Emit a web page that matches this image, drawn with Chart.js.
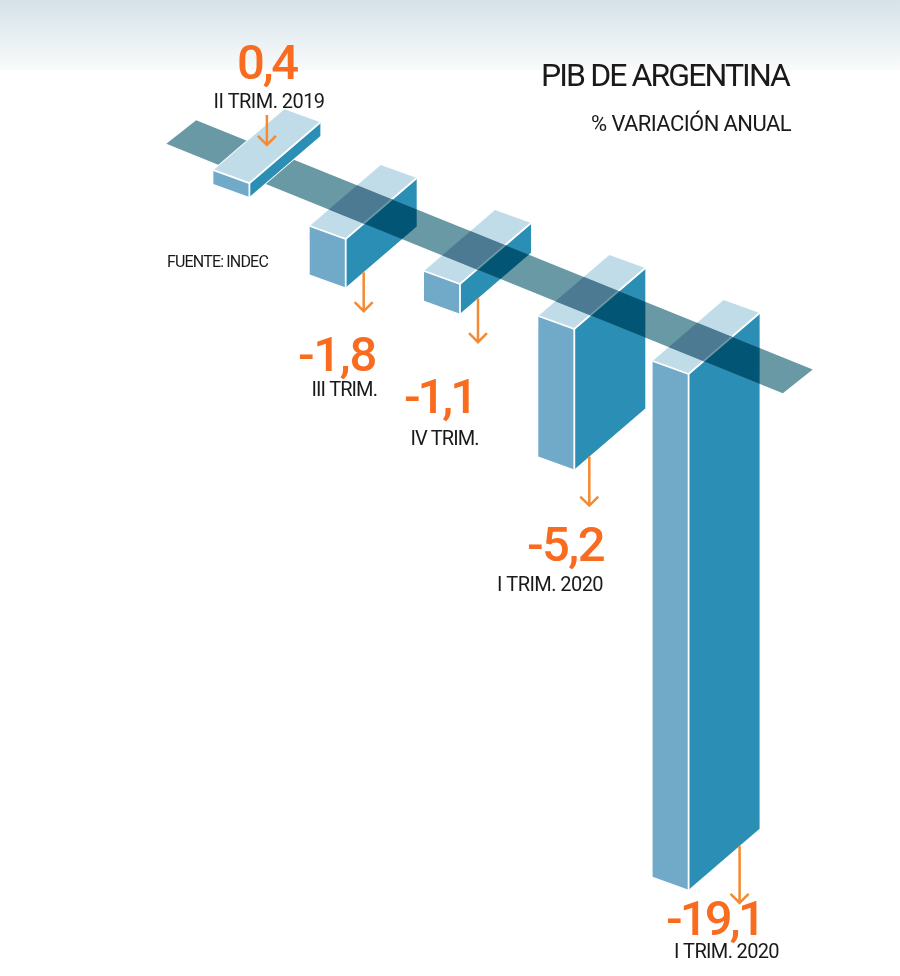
<!DOCTYPE html>
<html lang="es">
<head>
<meta charset="utf-8">
<title>PIB de Argentina</title>
<script src="https://cdn.jsdelivr.net/npm/chart.js@4/dist/chart.umd.min.js"></script>
<style>
  html, body { margin: 0; padding: 0; background: #fff; }
  canvas { display: block; }
</style>
</head>
<body>
<canvas id="pibChart" width="900" height="976"></canvas>
<script>
const categories = ["II TRIM. 2019", "III TRIM.", "IV TRIM.", "I TRIM. 2020", "I TRIM. 2020"];
const pibVariation = [0.4, -1.8, -1.1, -5.2, -19.1];

const chartTitle = "PIB DE ARGENTINA";
const chartSubtitle = "% VARIACIÓN ANUAL";
const sourceNote = "FUENTE: INDEC";

// where the annotations of each bar sit: [left, right, baseline]
const valueSpots = [[237, 297, 78.5], [298, 376, 371], [404, 475, 413], [527, 604, 561], [666, 763, 935]];
const labelSpots = [[213.5, 324.5, 107.5], [311.5, 377, 395.5], [410.5, 478.5, 444.5], [497, 603, 590.5], [674, 779, 958]];
const barNudge = [18, 0, 0, 0, 0];   // first bar is not on the regular step
const arrowDx = [17.5, 18, 18, 15, 51];
const arrowGap = [-67, 0, 0, 0, 0];
const arrowLength = [30, 39, 44, 49, 57];

// isometric look
const stepY = 45;       // each quarter goes down this much
const sideDrop = 13;    // front face slope
const depthX = 71;
const depthY = 61;
const plateDrop = 3;    // bar above zero still goes a bit under the plane
const bandCorners = [[-0.849, 0.197], [-0.835, 0.595], [4.605, 0.521], [4.591, 0.122]];

const faceColors = { left: "#71aac9", right: "#2b8fb5", top: "#c1dce9", edge: "#fff" };
const bandFaceColors = { left: "#4c7a92", right: "#035575", top: "#4c7a92", edge: "#6899a4" };

const font = 'Roboto, sans-serif';

function trace(ctx, pts) {
  ctx.beginPath();
  pts.forEach((p, i) => i ? ctx.lineTo(p[0], p[1]) : ctx.moveTo(p[0], p[1]));
}

function poly(ctx, pts, fill) {
  trace(ctx, pts);
  ctx.closePath();
  ctx.fillStyle = fill;
  ctx.fill();
}

function edge(ctx, pts, color) {
  trace(ctx, pts);
  ctx.strokeStyle = color;
  ctx.lineWidth = 1.8;
  ctx.stroke();
}

function barBox(el, i) {
  const positive = pibVariation[i] > 0;
  const fx = el.x + el.width / 2 + barNudge[i];
  return {
    fx: fx,
    lx: fx - el.width,
    top: Math.min(el.y, el.base) + i * stepY,
    bottom: Math.max(el.y, el.base) + i * stepY + (positive ? plateDrop : 0)
  };
}

function drawBar(ctx, el, i, colors) {
  const b = barBox(el, i);
  const frontTop = [b.fx, b.top];
  const frontBottom = [b.fx, b.bottom];
  const leftTop = [b.lx, b.top - sideDrop];
  const leftBottom = [b.lx, b.bottom - sideDrop];
  const rightTop = [b.fx + depthX, b.top - depthY];
  const rightBottom = [b.fx + depthX, b.bottom - depthY];
  const backTop = [b.lx + depthX, b.top - sideDrop - depthY];

  // the bar above zero needs a white rim where it crosses the band
  if (pibVariation[i] > 0) {
    edge(ctx, [leftTop, backTop, rightTop, rightBottom, frontBottom, leftBottom, leftTop], colors.edge);
  }
  poly(ctx, [leftTop, frontTop, frontBottom, leftBottom], colors.left);
  poly(ctx, [frontTop, rightTop, rightBottom, frontBottom], colors.right);
  poly(ctx, [leftTop, backTop, rightTop, frontTop], colors.top);
  edge(ctx, [leftTop, frontTop, rightTop], colors.edge);
  edge(ctx, [frontTop, frontBottom], colors.edge);
}

function drawBand(ctx, bars) {
  const x0 = barBox(bars[0], 0).fx;
  const y0 = bars[0].base;
  const stepX = bars[1].x - bars[0].x;
  const pts = bandCorners.map(c => [x0 + c[0] * stepX + c[1] * depthX, y0 + c[0] * stepY - c[1] * depthY]);
  poly(ctx, pts, "#6899a4");
  // bars seen through the band
  ctx.save();
  trace(ctx, pts);
  ctx.closePath();
  ctx.clip();
  bars.forEach((el, i) => { if (pibVariation[i] <= 0) drawBar(ctx, el, i, bandFaceColors); });
  ctx.restore();
}

function drawArrow(ctx, el, i) {
  const b = barBox(el, i);
  const x = b.fx + arrowDx[i];
  const y1 = b.bottom - arrowDx[i] * depthY / depthX + arrowGap[i];
  const y2 = y1 + arrowLength[i];
  ctx.beginPath();
  ctx.moveTo(x, y1);
  ctx.lineTo(x, y2);
  ctx.moveTo(x - 9, y2 - 9);
  ctx.lineTo(x, y2);
  ctx.lineTo(x + 9, y2 - 9);
  ctx.strokeStyle = "#f68a30";
  ctx.lineWidth = 2.5;
  ctx.stroke();
}

// stretch or squeeze a text so it fills the same width as in the print
function fitText(ctx, text, left, right, baseline, style, color) {
  ctx.font = style;
  ctx.fillStyle = color;
  ctx.textAlign = "left";
  ctx.textBaseline = "alphabetic";
  ctx.letterSpacing = "0px";
  const w = ctx.measureText(text).width;
  ctx.letterSpacing = ((right - left - w) / text.length).toFixed(2) + "px";
  ctx.fillText(text, left, baseline);
  ctx.letterSpacing = "0px";
}

const isoBars = {
  id: "isoBars",
  beforeDraw(chart) {
    const ctx = chart.ctx;
    const g = ctx.createLinearGradient(0, 0, 0, 70);
    g.addColorStop(0, "#d5e2e8");
    g.addColorStop(1, "#f9fbfb");
    ctx.fillStyle = "#fff";
    ctx.fillRect(0, 0, chart.width, chart.height);
    ctx.fillStyle = g;
    ctx.fillRect(0, 0, chart.width, 70);
  },
  afterDatasetsDraw(chart) {
    const ctx = chart.ctx;
    const bars = chart.getDatasetMeta(0).data;
    bars.forEach((el, i) => { if (pibVariation[i] <= 0) drawBar(ctx, el, i, faceColors); });
    drawBand(ctx, bars);
    bars.forEach((el, i) => { if (pibVariation[i] > 0) drawBar(ctx, el, i, faceColors); });
    bars.forEach((el, i) => drawArrow(ctx, el, i));

    pibVariation.forEach((v, i) => {
      const vs = valueSpots[i];
      const ls = labelSpots[i];
      fitText(ctx, String(v).replace(".", ","), vs[0], vs[1], vs[2], `500 49px ${font}`, "#f96b1e");
      fitText(ctx, categories[i], ls[0], ls[1], ls[2], `400 20px ${font}`, "#1a1a1a");
    });
    fitText(ctx, chartTitle, 541, 789, 86, `400 32px ${font}`, "#1a1a1a");
    fitText(ctx, chartSubtitle, 591, 791, 131, `400 22px ${font}`, "#1a1a1a");
    fitText(ctx, sourceNote, 167, 268, 266.7, `400 16px ${font}`, "#1a1a1a");
  }
};

new Chart(document.getElementById("pibChart").getContext("2d"), {
  type: "bar",
  data: {
    labels: categories,
    datasets: [{
      label: "% variación anual",
      data: pibVariation,
      backgroundColor: "transparent",
      barThickness: 36
    }]
  },
  options: {
    responsive: false,
    animation: false,
    layout: { padding: { left: 156.25, right: 172.25, top: 0, bottom: 0 } },
    plugins: { legend: { display: false }, tooltip: { enabled: false }, title: { display: false } },
    scales: {
      x: { display: false },
      y: { display: false, min: -28.963, max: 7.185 }
    }
  },
  plugins: [isoBars]
});
</script>
</body>
</html>
